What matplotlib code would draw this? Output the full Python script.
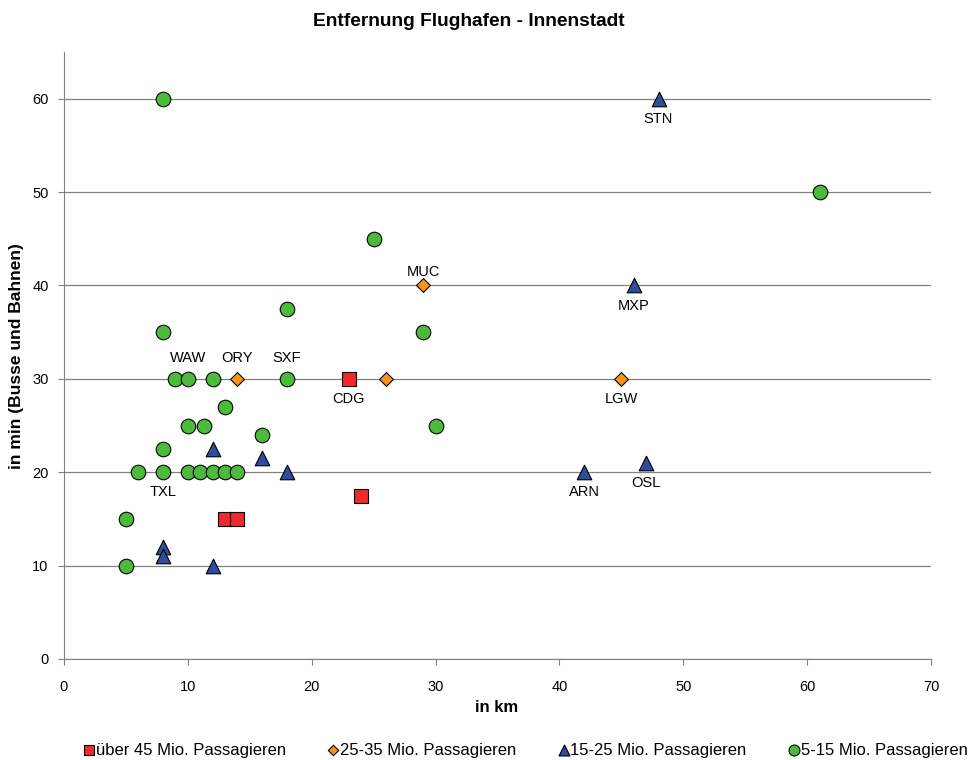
import numpy as np
import matplotlib
matplotlib.use("Agg")
import matplotlib.pyplot as plt

plt.rcParams["font.family"] = ["Liberation Sans", "DejaVu Sans"]

# distance to city centre [km] / travel time by bus and train [min]
big_km = [23, 13, 14, 24]
big_min = [30, 15, 15, 17.5]
big_codes = ["CDG", "", "", ""]

mid_km = [14, 26, 29, 45]
mid_min = [30, 30, 40, 30]
mid_codes = ["ORY", "", "MUC", "LGW"]

small_km = [48, 46, 42, 47, 12, 16, 18, 8, 8, 12]
small_min = [60, 40, 20, 21, 22.5, 21.5, 20, 12, 11, 10]
small_codes = ["STN", "MXP", "ARN", "OSL", "", "", "", "", "", ""]

tiny_km = [8, 61, 25, 18, 8, 29, 9, 10, 12, 18, 13, 10, 11.3, 30, 16, 8,
           6, 8, 10, 11, 12, 13, 14, 5, 5]
tiny_min = [60, 50, 45, 37.5, 35, 35, 30, 30, 30, 30, 27, 25, 25, 25, 24, 22.5,
            20, 20, 20, 20, 20, 20, 20, 15, 10]
tiny_codes = ["", "", "", "", "", "", "", "WAW", "", "SXF", "", "", "", "", "", "",
              "", "TXL", "", "", "", "", "", "", ""]

# label offsets in points (above = positive)
label_dy = {"WAW": 15, "ORY": 15, "SXF": 15, "MUC": 10}

series = [
    ("über 45 Mio. Passagieren", big_km, big_min, big_codes, "s", "#ee2a2a", 105),
    ("25-35 Mio. Passagieren", mid_km, mid_min, mid_codes, "D", "#f7941d", 50),
    ("15-25 Mio. Passagieren", small_km, small_min, small_codes, "^", "#2e4d9e", 110),
    ("5-15 Mio. Passagieren", tiny_km, tiny_min, tiny_codes, "o", "#4cbb3c", 110),
]

fig = plt.figure(figsize=(9.78, 7.6), dpi=100)
ax = fig.add_axes([64 / 978, 1 - 659 / 760, 867 / 978, 607 / 760])

for name, xs, ys, codes, marker, color, size in series:
    ax.scatter(xs, ys, marker=marker, s=size, c=color, edgecolors="black",
               linewidths=0.8, label=name, zorder=3)
    for code, x, y in zip(codes, xs, ys):
        if not code:
            continue
        dy = label_dy.get(code, -14.5)
        ax.annotate(code, (x, y), xytext=(0, dy), textcoords="offset points",
                    ha="center", va="center", fontsize=10.5, zorder=4)

ax.set_xlim(0, 70)
ax.set_ylim(0, 65)
ax.set_xticks(np.arange(0, 71, 10))
ax.set_yticks(np.arange(0, 61, 10))
ax.yaxis.grid(True, color="#808080", linewidth=0.9)
ax.set_axisbelow(True)
for side in ["top", "right"]:
    ax.spines[side].set_visible(False)
for side in ["left", "bottom"]:
    ax.spines[side].set_color("#808080")
ax.tick_params(direction="out", length=4, color="#808080", labelsize=10.5)
ax.tick_params(axis="x", pad=11)
ax.tick_params(axis="y", pad=7)

fig.text(469 / 978, 1 - 21 / 760, "Entfernung Flughafen - Innenstadt",
         ha="center", va="center", fontsize=13.8, fontweight="bold")
fig.text(497 / 978, 1 - 708 / 760, "in km", ha="center", va="center",
         fontsize=12, fontweight="bold")
fig.text(17 / 978, 1 - 356 / 760, "in min (Busse und Bahnen)", ha="center",
         va="center", rotation=90, fontsize=12.5, fontweight="bold")

leg = fig.legend(loc="center", bbox_to_anchor=(525 / 978, 1 - 750 / 760), ncol=4,
                 frameon=False, fontsize=12, markerscale=0.75, handletextpad=0.0,
                 columnspacing=2.45, handlelength=0.8)

fig.savefig("out.png", dpi=100)
plt.close(fig)
